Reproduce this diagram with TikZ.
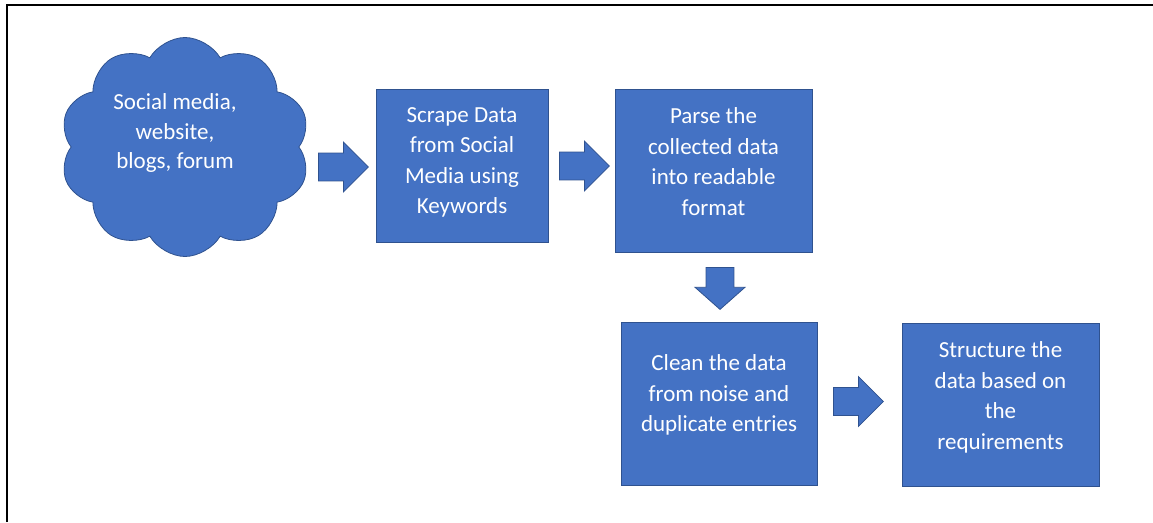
\documentclass[tikz,border=0pt]{standalone}
\usepackage{fontspec}
\setmainfont{Carlito}
\usetikzlibrary{shapes.symbols,shapes.arrows}

\definecolor{officeblue}{HTML}{4472C4}
\definecolor{officeedge}{HTML}{2F528F}

\begin{document}
\begin{tikzpicture}[x=1pt, y=-1pt,
        stepbox/.style={draw=officeedge, line width=0.8pt, fill=officeblue, text=white,
            align=center, inner sep=0pt, text depth=18pt, font=\fontsize{23}{30.5}\selectfont},
        blockarrow/.style={single arrow, draw=officeedge, line width=0.8pt, fill=officeblue,
            inner xsep=0pt, inner ysep=13.5pt, single arrow head extend=11pt,
            minimum height=50pt, minimum width=50pt, anchor=tail}]
            \useasboundingbox (0,0) rectangle (1153,522);

            % Frame
            \draw[line width=2pt] (7,522) -- (7,5) -- (1153,5);

            % Source cloud
            \node[cloud, cloud puffs=10, cloud puff arc=120, cloud ignores aspect,
                draw=officeedge, line width=0.8pt, fill=officeblue,
                minimum width=250pt, minimum height=219pt] (src) at (185,147) {};
            \node[text=white, align=center, font=\fontsize{23}{29.5}\selectfont] (srctext) at (175,133)
                {Social media,\\website,\\blogs, forum};

            % Steps
            \node[stepbox, minimum width=172pt, minimum height=153pt, text depth=10pt] (scrape) at (462,165.5)
                {Scrape Data\\from Social\\Media using\\Keywords};
            \node[stepbox, minimum width=197pt, minimum height=163pt] (parse) at (713.5,170.5)
                {Parse the\\collected data\\into readable\\format};
            \node[stepbox, minimum width=196pt, minimum height=163pt, text depth=20pt] (clean) at (719,403.5)
                {Clean the data\\from noise and\\duplicate entries};
            \node[stepbox, minimum width=197pt, minimum height=163pt] (structure) at (1000.5,404.5)
                {Structure the\\data based on\\the\\requirements};

            % Block arrows
            \node[blockarrow] (a1) at (318,167) {};
            \node[blockarrow] (a2) at (559,166) {};
            \node[blockarrow, rotate=-90, minimum height=42pt, single arrow tip angle=97] (a3) at (720,267) {};
            \node[blockarrow] (a4) at (833,401.5) {};
        \end{tikzpicture}
\end{document}
